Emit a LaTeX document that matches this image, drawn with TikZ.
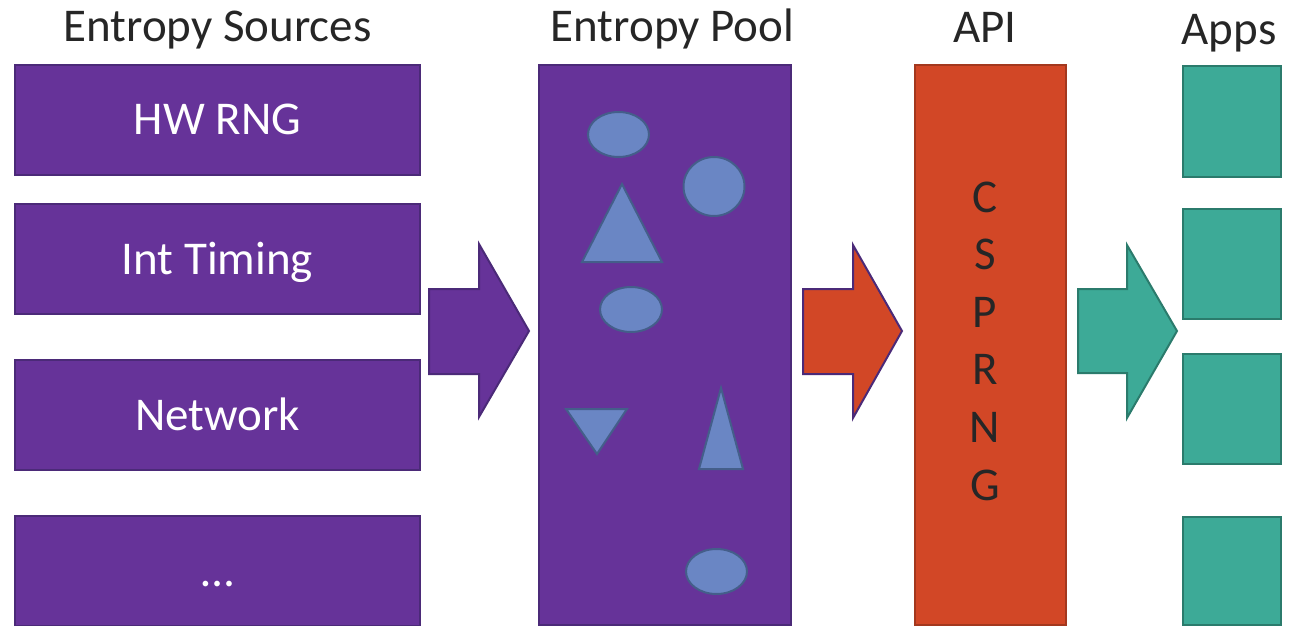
\documentclass[tikz,border=0pt]{standalone}
\usepackage{fontspec}
\setmainfont{Carlito}
\usetikzlibrary{shapes.geometric}

\definecolor{srcFill}{HTML}{663399}
\definecolor{srcLine}{HTML}{4B2A78}
\definecolor{apiFill}{HTML}{D24726}
\definecolor{apiLine}{HTML}{A3381E}
\definecolor{appFill}{HTML}{3DAA97}
\definecolor{appLine}{HTML}{2B7B6C}
\definecolor{bitFill}{HTML}{6A86C4}
\definecolor{bitLine}{HTML}{445E8A}
\definecolor{ink}{HTML}{262626}

\tikzset{
  title/.style={anchor=base, text=ink, font=\fontsize{47}{56}\selectfont, inner sep=0pt},
  srcbox/.style={draw=srcLine, fill=srcFill, line width=2pt, minimum width=405pt,
    minimum height=110pt, inner sep=0pt, text=white, text height=30pt, text depth=0pt,
    font=\fontsize{47}{56}\selectfont},
  poolbox/.style={draw=srcLine, fill=srcFill, line width=2pt, minimum width=252pt,
    minimum height=560pt, inner sep=0pt},
  apibox/.style={draw=apiLine, fill=apiFill, line width=2pt, minimum width=151pt,
    minimum height=560pt, inner sep=0pt},
  appbox/.style={draw=appLine, fill=appFill, line width=2pt, minimum width=98pt, inner sep=0pt},
  bit/.style={draw=bitLine, fill=bitFill, line width=2pt},
  blob/.style={bit, ellipse, inner sep=0pt},
  letter/.style={anchor=base, text=ink, font=\fontsize{47}{56}\selectfont, inner sep=0pt},
}

\begin{document}
\begin{tikzpicture}[x=1pt, y=-1pt]
  \useasboundingbox (0,0) rectangle (1302,626);

  % column headings
  \node[title] (hSrc)  at (217.5,42) {Entropy Sources};
  \node[title] (hPool) at (672.5,42) {Entropy Pool};
  \node[title] (hApi)  at (985,43) {API};
  \node[title] (hApps) at (1229,45) {Apps};

  % entropy sources
  \node[srcbox] (hw)  at (217.5,120) {HW RNG};
  \node[srcbox] (irq) at (217.5,259) {Int Timing};
  \node[srcbox] (net) at (217.5,415) {Network};
  \node[srcbox] (etc) at (217.5,571) {…};

  % entropy pool with mixed bits
  \node[poolbox] (pool) at (665,345) {};
  \node[blob, minimum width=61pt, minimum height=45pt] (b1) at (618.5,134.5) {};
  \node[blob, minimum width=61pt, minimum height=59pt] (b2) at (714,186.5) {};
  \node[blob, minimum width=62pt, minimum height=45pt] (b3) at (631,309.5) {};
  \node[blob, minimum width=61pt, minimum height=45pt] (b4) at (716.5,571.5) {};
  \draw[bit, line join=miter] (622,184) -- (662,262) -- (582,262) -- cycle;
  \draw[bit, line join=miter] (566,409) -- (627,409) -- (597,454) -- cycle;
  \draw[bit, line join=miter] (721,388) -- (743,469) -- (699,469) -- cycle;

  % API
  \node[apibox] (api) at (990.5,345) {};
  \foreach \ch/\yb in {C/212, S/269, P/327, R/384, N/442, G/500}
    \node[letter] (l\ch) at (985,\yb) {\ch};

  % applications
  \node[appbox, minimum height=111pt] (app1) at (1232,121.5) {};
  \node[appbox, minimum height=110pt] (app2) at (1232,264) {};
  \node[appbox, minimum height=110pt] (app3) at (1232,409) {};
  \node[appbox, minimum height=108pt] (app4) at (1232,571) {};

  % block arrows between the stages
  \draw[fill=srcFill, draw=srcLine, line width=2pt, line join=miter]
    (429,289) -- (479,289) -- (479,244) -- (529,331) -- (479,417) -- (479,374) -- (429,374) -- cycle;
  \draw[fill=apiFill, draw=srcLine, line width=2pt, line join=miter]
    (803,289) -- (853,289) -- (853,245) -- (902,331) -- (853,418) -- (853,374) -- (803,374) -- cycle;
  \draw[fill=appFill, draw=appLine, line width=2pt, line join=miter]
    (1078,289) -- (1127,289) -- (1127,245) -- (1177,331) -- (1127,418) -- (1127,373) -- (1078,373) -- cycle;
\end{tikzpicture}
\end{document}
